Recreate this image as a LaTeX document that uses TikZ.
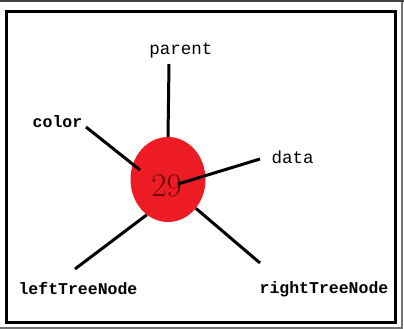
\documentclass[tikz,border=0pt]{standalone}
\usepackage{fontspec}
\newfontfamily\monofont{Liberation Mono}
\usepackage{tikz}
\usetikzlibrary{shapes.geometric}
\usepackage{xcolor}
\definecolor{ballred}{RGB}{237,28,36}
\definecolor{numred}{RGB}{105,8,8}

\begin{document}
\begin{tikzpicture}[x=1pt,y=-1pt,
    field/.style={font=\monofont\fontsize{17.5}{17.5}\selectfont,inner sep=0pt,anchor=base},
    boldfield/.style={field,font=\monofont\bfseries\fontsize{16.5}{16.5}\selectfont},
    link/.style={line width=3pt,black}]
        \useasboundingbox (0,0) rectangle (404,329);
        \fill[white] (0,0) rectangle (404,329);
        % window edges
        \fill[black!75] (0,0) rectangle (404,2);
        \draw[black!55,line width=1.2pt] (402,2)--(402,328)--(0,328);
        \draw[line width=3.5pt] (6.3,11.5) rectangle (395.3,322.7);
        % the tree node
        \node[ellipse,fill=ballred,minimum width=75pt,minimum height=85pt,inner sep=0pt] (ball) at (168,179.5) {};
        \node[anchor=base,inner sep=0pt,text=numred,font=\fontsize{33}{33}\selectfont] (num) at (166.5,196) {29};
        % its fields
        \node[field] (parent) at (181,55) {parent};
        \node[boldfield] (color) at (57.5,127) {color};
        \node[field] (data) at (292.5,163) {data};
        \node[boldfield] (leftTreeNode) at (78,294) {leftTreeNode};
        \node[boldfield] (rightTreeNode) at (324,293) {rightTreeNode};
        \coordinate (parentTip) at (169,64);
        \coordinate (colorTip) at (86,127);
        \coordinate (colorIn) at (140,170);
        \coordinate (dataTip) at (260,159);
        \coordinate (dataIn) at (178,184);
        \coordinate (leftTip) at (75,269);
        \coordinate (rightTip) at (260,263);
        \draw[link] (ball.north)--(parentTip);
        \draw[link] (colorIn)--(colorTip);
        \draw[link] (dataIn)--(dataTip);
        \draw[link] (ball.239)--(leftTip);
        \draw[link] (ball.314)--(rightTip);
\end{tikzpicture}
\end{document}
